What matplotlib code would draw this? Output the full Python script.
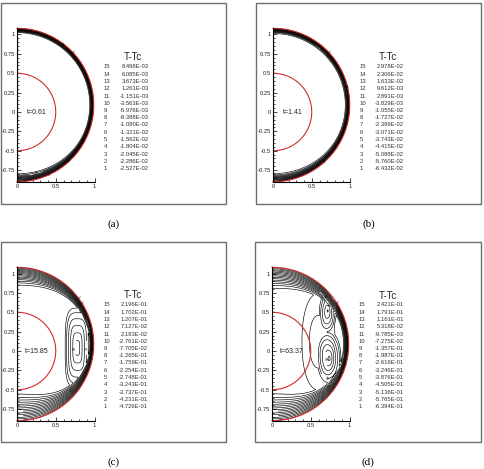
import numpy as np
import matplotlib
matplotlib.use("Agg")
import matplotlib.pyplot as plt
from matplotlib.patches import Rectangle
from matplotlib.ticker import MultipleLocator, FixedLocator, FuncFormatter

plt.rcParams['font.family'] = ['Liberation Sans', 'DejaVu Sans']
plt.rcParams['axes.unicode_minus'] = False

# ---- data ----
panel_tags = ['(a)', '(b)', '(c)', '(d)']
time_labels = ['t=0.61', 't=1.41', 't=15.85', 't=63.37']

# legend levels, listed 15 -> 1
levels_a = [8.498e-03, 6.085e-03, 3.673e-03, 1.261e-03, -1.151e-03, -3.563e-03,
            -5.976e-03, -8.388e-03, -1.080e-02, -1.321e-02, -1.562e-02, -1.804e-02,
            -2.045e-02, -2.286e-02, -2.527e-02]
levels_b = [2.978e-02, 2.306e-02, 1.633e-02, 9.612e-03, 2.891e-03, -3.829e-03,
            -1.055e-02, -1.727e-02, -2.399e-02, -3.071e-02, -3.743e-02, -4.415e-02,
            -5.088e-02, -5.760e-02, -6.432e-02]
levels_c = [2.196e-01, 1.702e-01, 1.207e-01, 7.127e-02, 2.183e-02, -2.761e-02,
            -7.705e-02, -1.265e-01, -1.759e-01, -2.254e-01, -2.748e-01, -3.243e-01,
            -3.737e-01, -4.231e-01, -4.726e-01]
levels_d = [2.421e-01, 1.791e-01, 1.161e-01, 5.318e-02, -9.785e-03, -7.275e-02,
            -1.357e-01, -1.987e-01, -2.616e-01, -3.246e-01, -3.876e-01, -4.505e-01,
            -5.136e-01, -5.765e-01, -6.394e-01]
all_levels = [levels_a, levels_b, levels_c, levels_d]

# field shape: core value, wall value, layer thickness at equator / top / bottom
core_T = [0.0090, 0.0305, 0.228, 0.250]
wall_T = [-0.0262, -0.066, -0.49, -0.66]
layer_eq = [0.055, 0.06, 0.06, 0.07]
layer_top = [0.06, 0.07, 0.24, 0.28]
layer_bot = [0.11, 0.11, 0.36, 0.36]
layer_pow = [1.6, 1.6, 1.4, 1.4]
# convective cells: x, y, sx, sy, amplitude
cells = [
    [],
    [],
    [(0.78, 0.04, 0.16, 0.52, -0.30)],
    [(0.72, 0.52, 0.11, 0.27, -0.30), (0.74, -0.10, 0.15, 0.34, -0.36),
     (0.60, 0.12, 0.22, 0.64, -0.13)],
]
cell_shape = [2, 2, 3.5, 2.2]

outer_c = 0.09   # centre height of outer sphere
outer_r = 0.99
inner_r = 0.5

# frame boxes and axes in pixels
W, H = 484, 469
frames = [(1, 3, 226, 204), (256, 3, 481, 204), (1, 242, 226, 442), (255, 242, 481, 442)]
ax_org = [(17, 112), (273, 112), (17, 351), (272, 351)]   # pixel of data (0,0)
legend_pos = [(104, 149, 133, 57, 67), (360, 404, 388, 57, 67),
              (104, 148, 133, 295, 305), (359, 404, 388, 296, 305)]
ppu = 77.5
xlim = (0, 1.0)
ylim = (-0.9, 1.08)

fig = plt.figure(figsize=(W / 100, H / 100), dpi=100)

gx = np.linspace(0, 1.0, 400)
gy = np.linspace(-0.9, 1.08, 800)
X, Y = np.meshgrid(gx, gy)
RHO = np.hypot(X, Y - outer_c)
SIN = np.sin(np.arctan2(Y - outer_c, X))

for i in range(4):
    x0, y0, x1, y1 = frames[i]
    fig.add_artist(Rectangle((x0 / W, 1 - y1 / H), (x1 - x0) / W, (y1 - y0) / H,
                             transform=fig.transFigure, fill=False,
                             edgecolor='#6e6e6e', lw=1.0))
    fig.text(((x0 + x1) / 2) / W, 1 - (y1 + 20) / H, panel_tags[i],
             family='Liberation Serif', fontsize=8, ha='center', va='center')

    ox, oy = ax_org[i]
    left = ox / W
    bottom = 1 - (oy - ylim[0] * ppu) / H
    ax = fig.add_axes([left, bottom, (xlim[1] - xlim[0]) * ppu / W,
                       (ylim[1] - ylim[0]) * ppu / H])
    ax.set_xlim(*xlim)
    ax.set_ylim(*ylim)
    for s in ['top', 'right']:
        ax.spines[s].set_visible(False)
    for s in ['left', 'bottom']:
        ax.spines[s].set_linewidth(0.8)

    # temperature field
    pole = np.where(SIN > 0, layer_top[i], layer_bot[i])
    d = layer_eq[i] + (pole - layer_eq[i]) * np.abs(SIN) ** 3
    sdist = np.clip((outer_r - RHO) / d, 0, 1)
    f = 1 - (1 - sdist) ** layer_pow[i]
    T = wall_T[i] + (core_T[i] - wall_T[i]) * f
    p = cell_shape[i]
    for cx, cy, sx, sy, amp in cells[i]:
        q = (np.abs((X - cx) / sx) ** p + np.abs((Y - cy) / sy) ** p) ** (1 / p)
        T = T + amp * np.clip(1 - q, 0, 1) ** 0.8
    T = np.ma.masked_where(RHO > outer_r, T)
    lev = sorted(all_levels[i])
    cs = ax.contour(X, Y, T, levels=lev, colors='black', linewidths=0.45,
                    linestyles='solid')
    idx = {v: str(15 - k) for k, v in enumerate(all_levels[i])}
    try:
        ax.clabel(cs, cs.levels[::3], fmt=idx, fontsize=2.5, inline=True)
    except Exception:
        pass

    # spheres
    t = np.linspace(-np.pi / 2, np.pi / 2, 300)
    ax.plot(outer_r * np.cos(t), outer_c + outer_r * np.sin(t), color='#d42a2a', lw=0.8,
            clip_on=False)
    ax.plot(inner_r * np.cos(t), inner_r * np.sin(t), color='#d42a2a', lw=0.8)

    ax.text(0.26, 0.0, time_labels[i], fontsize=5, ha='center', va='center', color='#222222')

    ax.xaxis.set_major_locator(FixedLocator([0, 0.5, 1]))
    ax.xaxis.set_minor_locator(MultipleLocator(0.1))
    ax.yaxis.set_major_locator(FixedLocator([-0.75, -0.5, -0.25, 0, 0.25, 0.5, 0.75, 1]))
    ax.yaxis.set_minor_locator(MultipleLocator(0.05))
    fmt = FuncFormatter(lambda v, p: '%g' % v)
    ax.xaxis.set_major_formatter(fmt)
    ax.yaxis.set_major_formatter(fmt)
    ax.tick_params(which='major', direction='in', length=3, width=0.6, labelsize=4.2,
                   pad=1.5, colors='#222222')
    ax.tick_params(which='minor', direction='in', length=1.5, width=0.5)

    # legend
    nx, vx, tx, ty, ry = legend_pos[i]
    fig.text(tx / W, 1 - ty / H, 'T-Tc', fontsize=7, ha='center', va='center', color='#222222')
    for k, v in enumerate(all_levels[i]):
        yy = 1 - (ry + k * 7.25) / H
        fig.text(nx / W, yy, str(15 - k), fontsize=4.2, ha='left', va='center', color='#333333')
        fig.text(vx / W, yy, '%.3E' % v, fontsize=4.2, ha='right', va='center', color='#333333')

fig.savefig('out.png', dpi=100)
